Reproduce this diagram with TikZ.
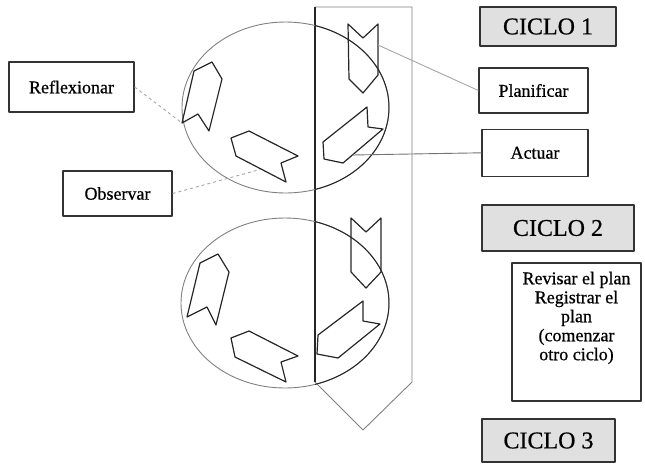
\documentclass[tikz,border=0pt]{standalone}
\usepackage{fontspec}
\setmainfont{Liberation Serif}[FakeBold=0.6]
\usetikzlibrary{positioning}

\begin{document}
\begin{tikzpicture}[x=1pt, y=-1pt, line join=round, text=black, box/.style = {draw=black!80, line width=1.3pt, minimum width=109pt, minimum height=45pt, inner sep=2pt, font=\fontsize{18}{19}\selectfont}, ciclo/.style = {box, fill=black!12, font=\fontsize{24}{26}\selectfont}, chev/.style = {draw=black!85, line width=1.2pt}, ring/.style = {draw=black!50, line width=0.9pt}, link/.style = {draw=black!35, line width=0.9pt}]
\useasboundingbox (0,0) rectangle (645,467);
% big arrow and the two cycles
\draw[ring] (315,7) -- (412,7) -- (412,382) -- (363,430) -- (315,382) -- cycle;
\draw[black!85, line width=1.3pt] (315,7) -- (315,382);
\draw[ring] (285.5,107.5) ellipse [x radius=103.5pt, y radius=85.5pt];
\draw[ring] (285,303) ellipse [x radius=104pt, y radius=85pt];
\begin{scope}
\clip (315,0) rectangle (412,467);
\draw[chev, line width=1pt] (285.5,107.5) ellipse [x radius=103.5pt, y radius=85.5pt];
\draw[chev, line width=1pt] (285,303) ellipse [x radius=104pt, y radius=85pt];
\end{scope}
% cycle 1
\draw[chev] (194,71) -- (212,62) -- (222,79) -- (209,131) -- (198,114) -- (182,123) coordinate (refend) -- cycle;
\draw[chev] (231,138) -- (249,131) -- (298,156) -- (281,163) -- (286,182) -- (236,156) -- cycle;
\draw[chev] (348,24) -- (363,38) -- (378,24) -- (378,75) -- (363,93) -- (349,79) -- cycle;
\draw[chev] (323,142) -- (367,107) -- (368,127) -- (383,129) -- (343,163) -- (324,159) -- cycle;
% cycle 2
\draw[chev] (200,263) -- (218,254) -- (229,272) -- (216,325) -- (207,307) -- (187,317) -- cycle;
\draw[chev] (231,338) -- (249,331) -- (298,356) -- (281,362) -- (286,382) -- (235,357) -- cycle;
\draw[chev] (351,218) -- (366,232) -- (381,218) -- (381,272) -- (366,288) -- (351,272) -- cycle;
\draw[chev] (318,335) -- (363,301) -- (363,321) -- (380,324) -- (338,358) -- (317,354) -- cycle;
\coordinate (obsend) at (260,169.5);
\coordinate (planend) at (378,45);
\coordinate (actend) at (352,155);
% labels
\node[ciclo, minimum width=136pt, minimum height=39pt] (ciclouno) at (548,26.5) {CICLO 1};
\node[box] (planificar) at (533.5,90.5) {Planificar};
\node[box, minimum width=106pt, minimum height=47pt, below=15pt of planificar, xshift=1.5pt] (actuar) {Actuar};
\node[ciclo, minimum width=152pt, minimum height=46pt] (ciclodos) at (558,228) {CICLO 2};
\node[box, minimum width=129pt, minimum height=138pt, text depth=32pt, align=center] (revisar) at (576.5,332) {Revisar el plan\\Registrar el\\plan\\(comenzar\\otro ciclo)};
\node[ciclo, minimum width=133pt, minimum height=43pt] (ciclotres) at (548.5,440.5) {CICLO 3};
\node[box, minimum width=125pt, minimum height=50pt] (reflexionar) at (71.5,87) {Reflexionar};
\node[box] (observar) at (117.5,193.5) {Observar};
\draw[link, dashed] (reflexionar.east) -- (refend);
\draw[link, dashed] (observar.east) -- (obsend);
\draw[link] (planend) -- (planificar.west);
\draw[link, black!55] (actend) -- (actuar.west);
\end{tikzpicture}
\end{document}
